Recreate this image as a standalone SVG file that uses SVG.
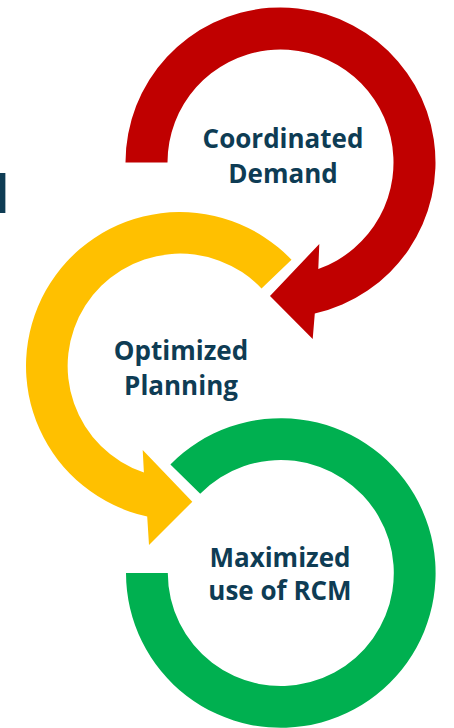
<svg xmlns="http://www.w3.org/2000/svg" width="454" height="728" viewBox="0 0 454 728">
  <style>
    .lbl { font-family: "Open Sans", "Noto Sans", "DejaVu Sans", sans-serif; font-weight: 700; font-size: 26px; fill: #0E3C54; text-anchor: middle; }
    .title { font-family: "Open Sans", "Noto Sans", "DejaVu Sans", sans-serif; font-weight: 700; font-size: 52px; fill: #0E3C54; }
    .red { fill: #C00000; }
    .yellow { fill: #FFC000; }
    .green { fill: #00B050; }
  </style>
  <rect width="454" height="728" fill="#FFFFFF"/>
  <text class="title" x="-23.5" y="213">d</text>
  <g id="node-maximized-use-of-rcm">
    <path class="green" d="M 126,573 A 154.8 154.8 0 1 0 170.4,464.5 L 200.2,493.8 A 113 113 0 1 1 167.8,573 Z"/>
    <text class="lbl" x="280" y="567">Maximized</text>
    <text class="lbl" x="280" y="600">use of RCM</text>
  </g>
  <g id="node-optimized-planning">
    <path class="yellow" d="M 291.5,259.8 A 154 154 0 1 0 147.2,516.5 L 149,545 L 192.3,501.7 L 142.7,450 L 143.9,472.6 A 112.5 112.5 0 1 1 261.5,288.4 Z"/>
    <text class="lbl" x="181" y="359.5">Optimized</text>
    <text class="lbl" x="181" y="394.5">Planning</text>
  </g>
  <g id="node-coordinated-demand">
    <path class="red" d="M 125.5,162.5 A 155 155 0 1 1 314.8,313.6 L 312.7,339 L 270,296 L 319.3,244 L 318.3,269 A 113 113 0 1 0 167.5,162.5 Z"/>
    <text class="lbl" x="283" y="148">Coordinated</text>
    <text class="lbl" x="283" y="182.5">Demand</text>
  </g>
  <g id="connectors"></g>
</svg>
